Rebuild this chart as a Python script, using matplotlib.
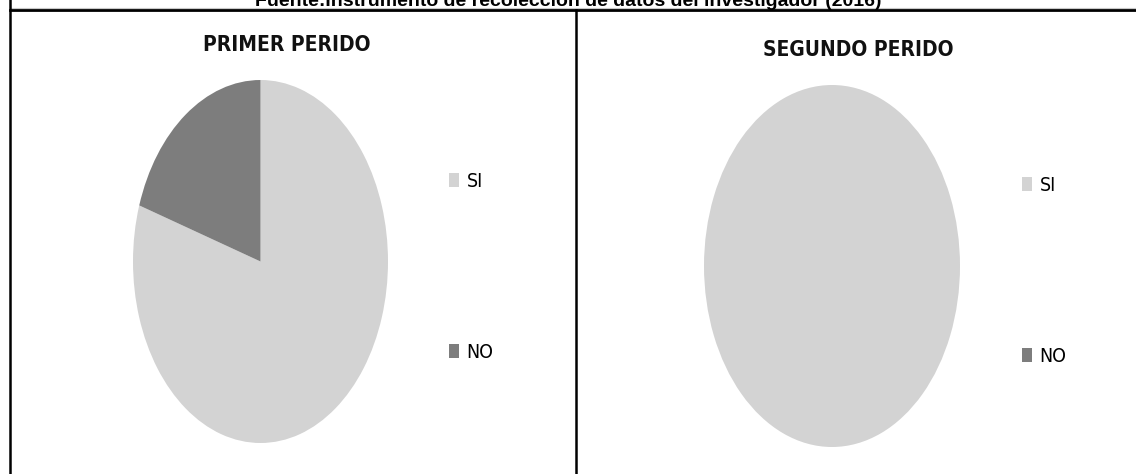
import matplotlib.pyplot as plt
from matplotlib.lines import Line2D

# data
labels = ["SI", "NO"]
primer_periodo = [80, 20]
segundo_periodo = [100, 0]
titles = ["PRIMER PERIDO", "SEGUNDO PERIDO"]
fuente = "Fuente:Instrumento de recolección de datos del investigador (2016)"

colors = ["#d3d3d3", "#7d7d7d"]
narrow = dict(family="DejaVu Sans", stretch="condensed")

W, H = 1136, 474
fig = plt.figure(figsize=(W / 100, H / 100), dpi=100)


def box(x0, y0, x1, y1):
    # pixel box (top-left origin) -> figure fraction rect
    return [x0 / W, 1 - y1 / H, (x1 - x0) / W, (y1 - y0) / H]


def draw_pie(rect, values, title, title_xy, legend_xy):
    ax = fig.add_axes(box(*rect))
    wedges, _ = ax.pie(values, colors=colors, startangle=90, counterclock=False,
                       wedgeprops=dict(linewidth=0))
    ax.set_aspect("auto")
    ax.set_xlim(-1, 1)
    ax.set_ylim(-1, 1)
    fig.text(title_xy[0] / W, 1 - title_xy[1] / H, title, ha="center", va="center",
             fontsize=15, fontweight="bold", color="#111111", **narrow)
    fig.legend(wedges, labels, loc="upper left",
               bbox_to_anchor=(legend_xy[0] / W, 1 - legend_xy[1] / H),
               frameon=False, prop=dict(size=14, **narrow),
               handlelength=0.5, handleheight=0.75, handletextpad=0.4,
               labelspacing=7.8, borderpad=0, borderaxespad=0)


draw_pie((133, 80, 388, 443), primer_periodo, titles[0], (287, 45), (449, 172))
draw_pie((704, 85, 960, 447), segundo_periodo, titles[1], (858, 50), (1022, 176))

# table borders
px = lambda x: x / W
py = lambda y: 1 - y / H
fig.add_artist(Line2D([px(10), 1], [py(8), py(8)], color="#c8c8c8", lw=0.8))
fig.add_artist(Line2D([px(10), 1], [py(10), py(10)], color="black", lw=2))
fig.add_artist(Line2D([px(10), px(10)], [0, 1], color="black", lw=1.8))
fig.add_artist(Line2D([px(576), px(576)], [0, py(10)], color="black", lw=1.8))

fig.text(0.5, py(6), fuente, ha="center", va="baseline", fontsize=14,
         fontweight="bold", family="Liberation Sans", color="black")

fig.savefig("out.png", dpi=100)
